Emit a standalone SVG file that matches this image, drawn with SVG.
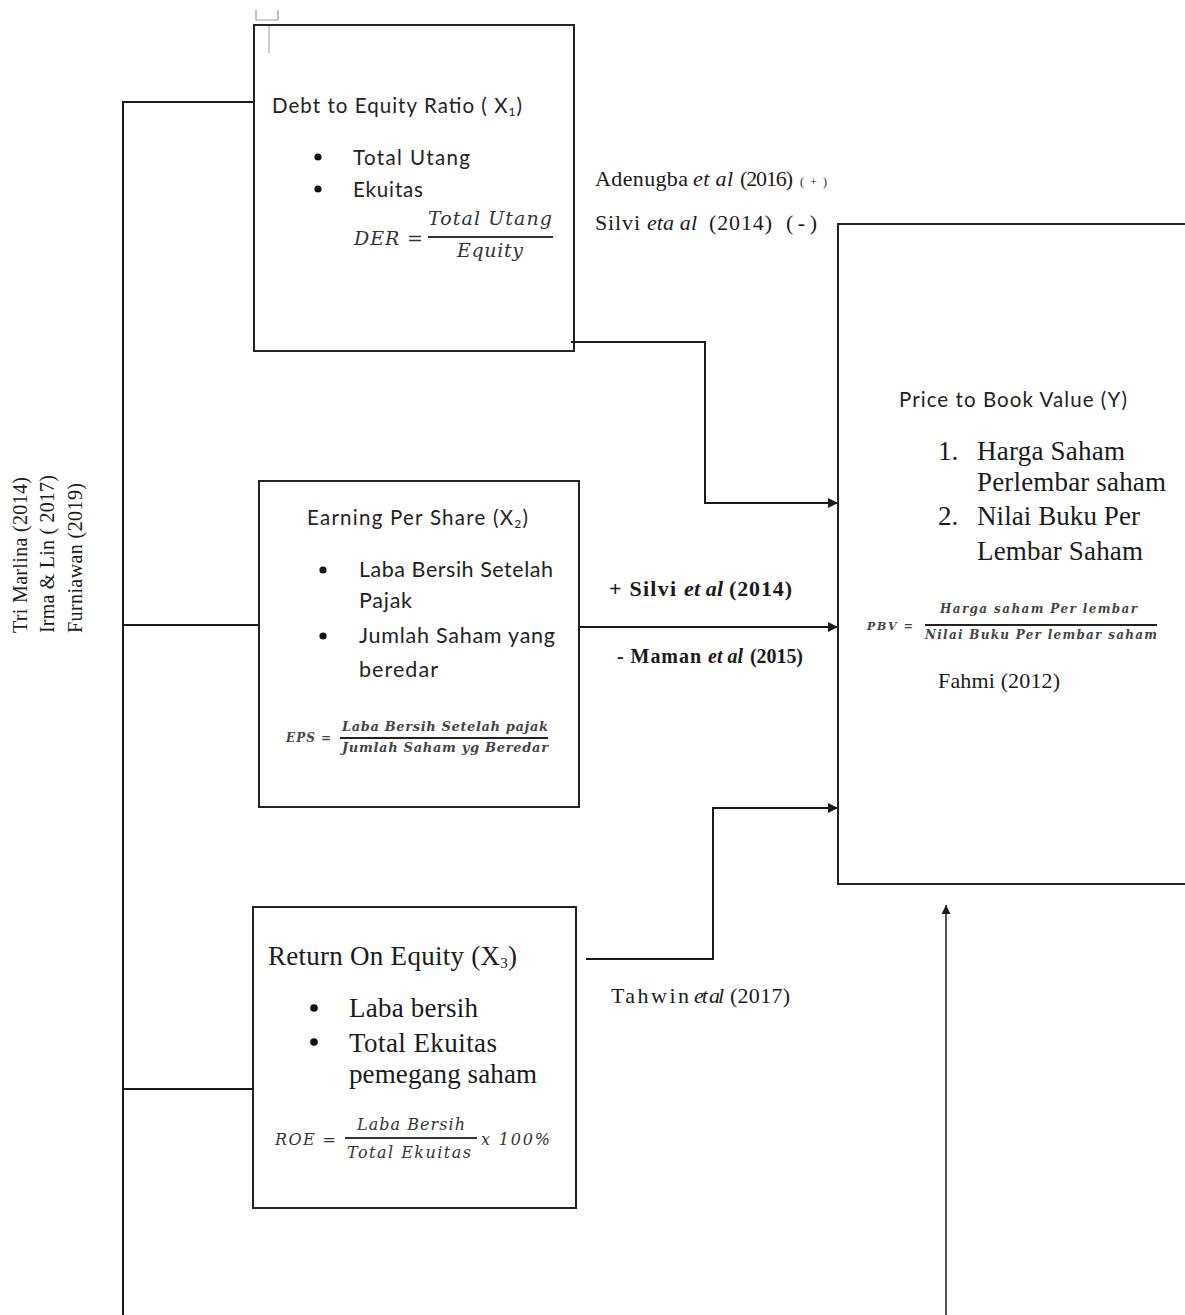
<svg xmlns="http://www.w3.org/2000/svg" width="1185" height="1315" viewBox="0 0 1185 1315">
<style>
.box{fill:none;stroke:#222;stroke-width:2}
.ln{fill:none;stroke:#1a1a1a;stroke-width:2}
.sans{font-family:Lato,"Open Sans","Liberation Sans",sans-serif;fill:#222}
.serif{font-family:"Liberation Serif","Times New Roman",serif;fill:#1a1a1a}
.math{font-family:"DejaVu Serif","Liberation Serif",serif;font-style:italic;fill:#333}
.mathb{font-family:"DejaVu Serif","Liberation Serif",serif;font-style:italic;font-weight:bold;fill:#444}
.it{font-style:italic}
.b{font-weight:bold}
</style>
<defs>
<marker id="arr" viewBox="0 0 10 10" refX="10" refY="5" markerWidth="6" markerHeight="5" markerUnits="strokeWidth" orient="auto">
<path d="M0,0 L10,5 L0,10 z" fill="#1a1a1a"/>
</marker>
<marker id="arrT" viewBox="0 0 10 10" refX="10" refY="5" markerWidth="7" markerHeight="6" markerUnits="strokeWidth" orient="auto">
<path d="M0,0 L10,5 L0,10 z" fill="#1a1a1a"/>
</marker>
</defs>
<rect width="1185" height="1315" fill="#fff"/>

<g id="mark">
<path d="M256,10 V20 H278 V10" fill="none" stroke="#999" stroke-width="1.2"/>
<line x1="269" y1="24" x2="269" y2="53" stroke="#aaa" stroke-width="1.2"/>
</g>

<g id="connectors">
<path class="ln" d="M123,1315 V102 H254"/>
<line class="ln" x1="123" y1="625" x2="259" y2="625"/>
<line class="ln" x1="123" y1="1089" x2="252" y2="1089"/>
<path class="ln" d="M571,342 H705 V503 H838" marker-end="url(#arr)"/>
<line class="ln" x1="579" y1="627" x2="838" y2="627" marker-end="url(#arr)"/>
<path class="ln" d="M586,959 H713 V808 H838" marker-end="url(#arr)"/>
<line x1="946" y1="1315" x2="946" y2="905" stroke="#1a1a1a" stroke-width="1.5" marker-end="url(#arrT)"/>
</g>

<g id="refs-left">
<text class="serif" font-size="20" transform="translate(27,633) rotate(-90)" textLength="156">Tri Marlina (2014)</text>
<text class="serif" font-size="20" transform="translate(54,633) rotate(-90)" textLength="158">Irma &amp; Lin ( 2017)</text>
<text class="serif" font-size="20" transform="translate(82,633) rotate(-90)" textLength="150">Furniawan (2019)</text>
</g>

<g id="der">
<rect class="box" x="254" y="25" width="320" height="326"/>
<text class="sans" font-size="20.5" x="272" y="113" textLength="250">Debt to Equity Ratio ( X<tspan font-size="12" dy="3">1</tspan><tspan dy="-3">)</tspan></text>
<circle cx="318" cy="157" r="3.6" fill="#111"/>
<circle cx="318" cy="189" r="3.6" fill="#111"/>
<text class="sans" font-size="20.5" x="353" y="165" textLength="117">Total Utang</text>
<text class="sans" font-size="20.5" x="353" y="197" textLength="70">Ekuitas</text>
<text class="math" font-size="19" x="354" y="245" textLength="69">DER =</text>
<text class="math" font-size="19" x="428" y="225" textLength="124">Total Utang</text>
<line x1="428" y1="237" x2="553" y2="237" stroke="#333" stroke-width="2"/>
<text class="math" font-size="19" x="457" y="257" textLength="66">Equity</text>
</g>

<g id="label-der">
<text class="serif" font-size="22" x="595" y="186" textLength="93">Adenugba</text>
<text class="serif it" font-size="22" x="693" y="186" textLength="40">et al</text>
<text class="serif" font-size="22" x="740" y="186" textLength="53">(2016)</text>
<text class="serif" font-size="12" x="800" y="186" fill="#666" textLength="27">(+)</text>
<text class="serif" font-size="22" x="595" y="230" textLength="45">Silvi</text>
<text class="serif it" font-size="22" x="647" y="230" textLength="50">eta al</text>
<text class="serif" font-size="22" x="709" y="230" textLength="63">(2014)</text>
<text class="serif" font-size="22" x="786" y="230" textLength="31">(-)</text>
</g>

<g id="eps">
<rect class="box" x="259" y="481" width="320" height="326"/>
<text class="sans" font-size="20.5" x="307" y="525" textLength="221">Earning Per Share (X<tspan font-size="12" dy="3">2</tspan><tspan dy="-3">)</tspan></text>
<circle cx="323" cy="570" r="3.6" fill="#111"/>
<circle cx="323" cy="636" r="3.6" fill="#111"/>
<text class="sans" font-size="21.5" x="359" y="577" textLength="194">Laba Bersih Setelah</text>
<text class="sans" font-size="21.5" x="359" y="608" textLength="53">Pajak</text>
<text class="sans" font-size="21.5" x="359" y="643" textLength="196">Jumlah Saham yang</text>
<text class="sans" font-size="21.5" x="359" y="677" textLength="79">beredar</text>
<text class="mathb" font-size="12" x="286" y="742" textLength="45">EPS =</text>
<text class="mathb" font-size="13" x="342" y="731" textLength="206">Laba Bersih Setelah pajak</text>
<line x1="340" y1="738" x2="548" y2="738" stroke="#222" stroke-width="2"/>
<text class="mathb" font-size="13" x="342" y="752" textLength="206">Jumlah Saham yg Beredar</text>
</g>

<g id="label-eps">
<text class="serif b" font-size="22" x="609" y="596" textLength="67">+ Silvi</text>
<text class="serif b it" font-size="22" x="684" y="596" textLength="39">et al</text>
<text class="serif b" font-size="22" x="729" y="596" textLength="63">(2014)</text>
<text class="serif b" font-size="20" x="617" y="663" textLength="84">- Maman</text>
<text class="serif b it" font-size="20" x="708" y="663" textLength="35">et al</text>
<text class="serif b" font-size="20" x="750" y="663" textLength="53">(2015)</text>
</g>

<g id="roe">
<rect class="box" x="253" y="907" width="323" height="301"/>
<text class="serif" font-size="27" x="268" y="965" textLength="249">Return On Equity (X<tspan font-size="15" dy="3">3</tspan><tspan dy="-3">)</tspan></text>
<circle cx="314" cy="1008" r="3.8" fill="#111"/>
<circle cx="314" cy="1042" r="3.8" fill="#111"/>
<text class="serif" font-size="27" x="349" y="1017" textLength="129">Laba bersih</text>
<text class="serif" font-size="27" x="349" y="1052" textLength="148">Total Ekuitas</text>
<text class="serif" font-size="27" x="349" y="1083" textLength="188">pemegang saham</text>
<text class="math" font-size="16" x="275" y="1145" fill="#555" textLength="61">ROE =</text>
<text class="math" font-size="16" x="357" y="1130" fill="#555" textLength="108">Laba Bersih</text>
<line x1="345" y1="1138" x2="477" y2="1138" stroke="#333" stroke-width="2"/>
<text class="math" font-size="16" x="347" y="1158" fill="#555" textLength="124">Total Ekuitas</text>
<text class="math" font-size="16" x="481" y="1145" fill="#555" textLength="69">x 100%</text>
</g>

<g id="label-roe">
<text class="serif" font-size="22" x="611" y="1003" textLength="78">Tahwin</text>
<text class="serif it" font-size="22" x="694" y="1003" textLength="30">et al</text>
<text class="serif" font-size="22" x="730" y="1003" textLength="60">(2017)</text>
</g>

<g id="pbv">
<rect class="box" x="838" y="224" width="360" height="660"/>
<text class="sans" font-size="20.5" x="899" y="407" textLength="228">Price to Book Value (Y)</text>
<text class="serif" font-size="27" x="938" y="460">1.</text>
<text class="serif" font-size="27" x="977" y="460" textLength="148">Harga Saham</text>
<text class="serif" font-size="27" x="977" y="491" textLength="189">Perlembar saham</text>
<text class="serif" font-size="27" x="938" y="525">2.</text>
<text class="serif" font-size="27" x="977" y="525" textLength="163">Nilai Buku Per</text>
<text class="serif" font-size="27" x="977" y="560" textLength="166">Lembar Saham</text>
<text class="mathb" font-size="11" x="867" y="630" textLength="46">PBV =</text>
<text class="mathb" font-size="12" x="940" y="613" textLength="197">Harga saham Per lembar</text>
<line x1="925" y1="625" x2="1157" y2="625" stroke="#222" stroke-width="2"/>
<text class="mathb" font-size="12" x="925" y="639" textLength="232">Nilai Buku Per lembar saham</text>
<text class="serif" font-size="22" x="938" y="688" textLength="122">Fahmi (2012)</text>
</g>
</svg>
